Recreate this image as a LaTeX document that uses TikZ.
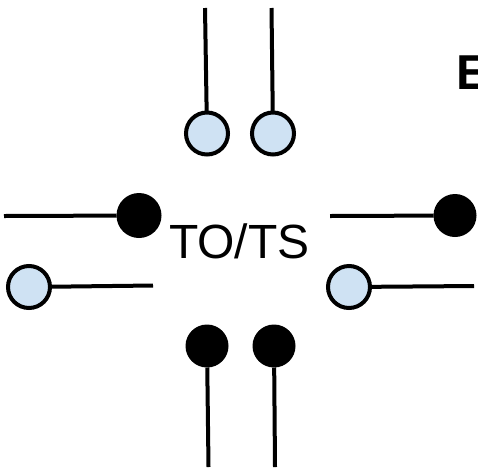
\documentclass[tikz,border=0pt]{standalone}
\usepackage{fontspec}
\setmainfont{Liberation Sans}
\begin{document}
\begin{tikzpicture}[x=1pt,y=-1pt,
  pinline/.style={line width=4pt,black},
  openpin/.style={circle,draw=black,line width=4pt,fill=pinblue,minimum size=42pt,inner sep=0pt,outer sep=0pt},
  solidpin/.style={circle,fill=black,minimum size=43pt,inner sep=0pt,outer sep=0pt},
  label/.style={inner sep=0pt,outer sep=0pt,anchor=base west,font=\fontsize{48pt}{48pt}\selectfont}]
\definecolor{pinblue}{HTML}{CFE2F3}
\useasboundingbox (0,0) rectangle (478,469);
% top
\node[openpin] (t1) at (207,133.5) {};
\node[openpin] (t2) at (273,133.5) {};
\coordinate (t1e) at (205,8);
\coordinate (t2e) at (271.5,8);
\draw[pinline] (t1e) -- (t1);
\draw[pinline] (t2e) -- (t2);
% bottom
\node[solidpin] (b1) at (207,346) {};
\node[solidpin] (b2) at (274,346) {};
\coordinate (b1e) at (208.5,467);
\coordinate (b2e) at (275,467);
\draw[pinline] (b1) -- (b1e);
\draw[pinline] (b2) -- (b2e);
% left
\node[solidpin,minimum size=45pt] (l1) at (139,215.5) {};
\node[openpin] (l2) at (29,287) {};
\coordinate (l1e) at (4,216);
\coordinate (l2e) at (153,285.5);
\draw[pinline] (l1e) -- (l1);
\draw[pinline] (l2) -- (l2e);
% right
\node[solidpin] (r1) at (455,215.5) {};
\node[openpin] (r2) at (349,287) {};
\coordinate (r1e) at (330,216);
\coordinate (r2e) at (474,286);
\draw[pinline] (r1e) -- (r1);
\draw[pinline] (r2) -- (r2e);
% labels
\node[label] (c) at (169,258) {TO/TS};
\node[label,font=\fontsize{49pt}{49pt}\selectfont\bfseries] (e) at (456,89) {E};
\end{tikzpicture}
\end{document}
